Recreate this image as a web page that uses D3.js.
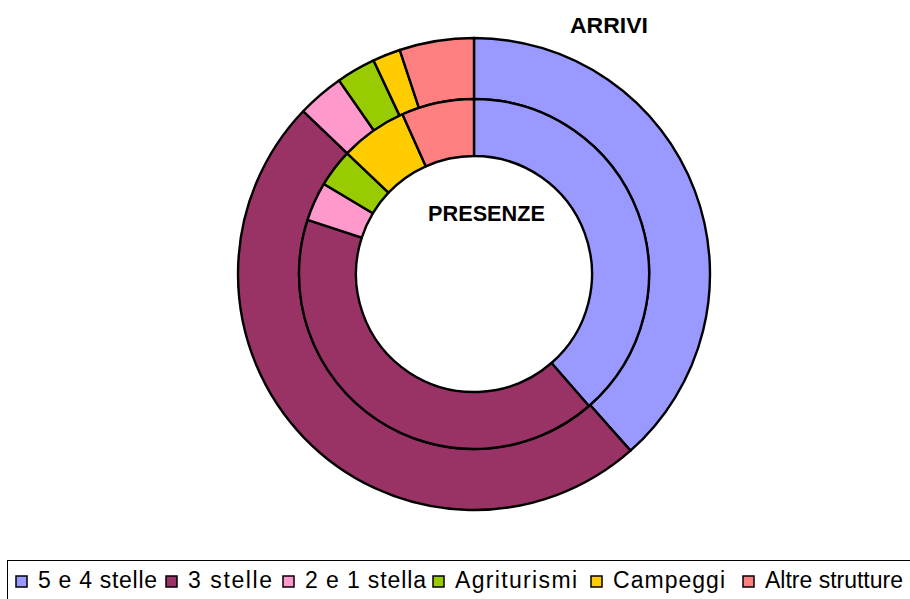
<!DOCTYPE html>
<html>
<head>
<meta charset="utf-8">
<script src="https://cdn.jsdelivr.net/npm/d3@7"></script>
<style>
  html, body { margin: 0; padding: 0; background: #fff; }
  svg { display: block; }
</style>
</head>
<body>
<svg id="chart" width="910" height="599"></svg>
<script>
const categories = ["5 e 4 stelle", "3 stelle", "2 e 1 stella", "Agriturismi", "Campeggi", "Altre strutture"];
const arrivi   = [38.5, 48.7, 3.2, 2.7, 1.9, 5.1];   // outer ring (%)
const presenze = [38.6, 41.4, 3.6, 3.5, 6.2, 6.7];   // inner ring (%)
const colors   = ["#9999FF", "#993366", "#FF99CC", "#99CC00", "#FFCC00", "#FF8080"];
const ringLabels = ["ARRIVI", "PRESENZE"];

const svg = d3.select("#chart");
const cx = 474, cy = 274;
const rOuter = 236, rMid = 175, rInner = 118;

const pie = d3.pie().sort(null).value(d => d);
const color = d3.scaleOrdinal().domain(categories).range(colors);

const g = svg.append("g").attr("transform", `translate(${cx},${cy})`);

function ring(values, r0, r1) {
  const arc = d3.arc().innerRadius(r0).outerRadius(r1);
  g.append("g").selectAll("path")
    .data(pie(values))
    .join("path")
    .attr("d", arc)
    .attr("fill", (d, i) => color(categories[i]))
    .attr("stroke", "#000")
    .attr("stroke-width", 2.4)
    .attr("stroke-linejoin", "round");
}
ring(arrivi, rMid, rOuter);
ring(presenze, rInner, rMid);

// ring labels
svg.append("text")
  .attr("x", 570).attr("y", 33)
  .attr("font-family", "Liberation Sans, Arial, sans-serif")
  .attr("font-weight", "bold").attr("font-size", 22)
  .attr("textLength", 78).attr("lengthAdjust", "spacingAndGlyphs")
  .attr("fill", "#000")
  .text(ringLabels[0]);
svg.append("text")
  .attr("x", 428).attr("y", 221)
  .attr("font-family", "Liberation Sans, Arial, sans-serif")
  .attr("font-weight", "bold").attr("font-size", 22)
  .attr("textLength", 117).attr("lengthAdjust", "spacingAndGlyphs")
  .attr("fill", "#000")
  .text(ringLabels[1]);

// legend
svg.append("rect")
  .attr("x", 7.5).attr("y", 560.5)
  .attr("width", 910).attr("height", 60)
  .attr("fill", "#fff").attr("stroke", "#000").attr("stroke-width", 1);

const legendX = d3.scaleOrdinal().domain(categories).range([38, 188, 305, 455, 613, 765]);
const legendW = d3.scaleOrdinal().domain(categories).range([119, 84, 121, 122, 112, 138]);

const lg = svg.append("g").selectAll("g").data(categories).join("g");
lg.append("rect")
  .attr("x", d => legendX(d) - 22)
  .attr("y", 576)
  .attr("width", 11).attr("height", 11)
  .attr("fill", d => color(d))
  .attr("stroke", "#000").attr("stroke-width", 1.5);
lg.append("text")
  .attr("x", d => legendX(d))
  .attr("y", 588)
  .attr("font-family", "Liberation Sans, Arial, sans-serif")
  .attr("font-size", 23)
  .attr("fill", "#000")
  .attr("textLength", d => legendW(d))
  .attr("lengthAdjust", "spacing")
  .text(d => d);
</script>
</body>
</html>
